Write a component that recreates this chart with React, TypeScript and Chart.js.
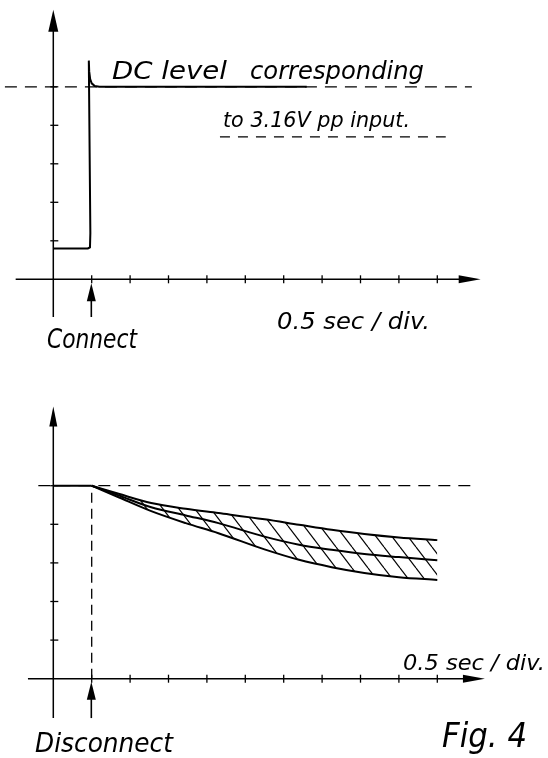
import React, { useEffect, useRef } from "react";
import { Chart, registerables } from "chart.js";

Chart.register(...registerables);

// ---------- data (x in time divisions, y in vertical divisions) ----------
const xTicks = [1, 2, 3, 4, 5, 6, 7, 8, 9, 10];
const yTicks = [1, 2, 3, 4, 5];

// top trace: connect
const connectX = [0, 0.9, 0.955, 0.965, 0.925, 0.935, 0.96, 1.0, 1.08, 1.2, 6.6];
const connectY = [0.8, 0.8, 0.83, 1.2, 5.68, 5.4, 5.2, 5.09, 5.02, 5.0, 5.0];
const dcLevel = 5;
const dcDashX = [-1.26, 10.9];
const refLevel = 3.7;
const refDashX = [4.34, 10.22];

// bottom trace: disconnect
const decayX = [1, 1.7, 2.55, 3.45, 4.3, 5.5, 6.4, 7.25, 8.1, 9, 10];
const decayUpper = [5, 4.79, 4.55, 4.4, 4.29, 4.13, 3.99, 3.86, 3.75, 3.66, 3.59];
const decayMiddle = [5, 4.75, 4.44, 4.23, 4.03, 3.68, 3.47, 3.34, 3.23, 3.15, 3.07];
const decayLower = [5, 4.7, 4.34, 4.03, 3.77, 3.35, 3.08, 2.89, 2.74, 2.63, 2.56];
const flatX = [0, 1];
const levelDashX = [-0.39, 11.03];
const disconnectAt = 1;

const FONT = '"DejaVu Sans", "Liberation Sans", sans-serif';
const W = 548;
const H = 379;

const pts = (xs: number[], ys: number[]) => xs.map((x, i) => ({ x, y: ys[i] }));
const hline = (xs: number[], y: number) => xs.map((x) => ({ x, y }));

function fitText(ctx: CanvasRenderingContext2D, text: string, x: number, baseline: number, width: number, size: number) {
  ctx.save();
  ctx.font = `italic ${size}px ${FONT}`;
  ctx.fillStyle = "#000";
  ctx.textBaseline = "alphabetic";
  const w = ctx.measureText(text).width;
  ctx.translate(x, baseline);
  ctx.scale(width / w, 1);
  ctx.fillText(text, 0, 0);
  ctx.restore();
}

function line(ctx: CanvasRenderingContext2D, x1: number, y1: number, x2: number, y2: number, lw = 1.5) {
  ctx.beginPath();
  ctx.lineWidth = lw;
  ctx.moveTo(x1, y1);
  ctx.lineTo(x2, y2);
  ctx.stroke();
}

function tri(ctx: CanvasRenderingContext2D, p: number[][]) {
  ctx.beginPath();
  ctx.moveTo(p[0][0], p[0][1]);
  ctx.lineTo(p[1][0], p[1][1]);
  ctx.lineTo(p[2][0], p[2][1]);
  ctx.closePath();
  ctx.fill();
}

type AxisCfg = {
  xFrom: number; xTo: number; yFrom: number; yTo: number;
  yHead: number; yHalf: number; markerAt: number; markerTip: number; markerBottom: number;
  texts: [string, number, number, number, number][];
};

function axesPlugin(cfg: AxisCfg) {
  return {
    id: "axesPlugin",
    afterDraw(chart: any) {
      const ctx: CanvasRenderingContext2D = chart.ctx;
      const xs = chart.scales.x;
      const ys = chart.scales.y;
      const X = (v: number) => xs.getPixelForValue(v);
      const Y = (v: number) => ys.getPixelForValue(v);
      ctx.save();
      ctx.strokeStyle = "#000";
      ctx.fillStyle = "#000";
      const x0 = X(0);
      const y0 = Y(0);
      // x axis
      const xEnd = X(cfg.xTo);
      line(ctx, X(cfg.xFrom), y0, xEnd - 10, y0, 1.5);
      tri(ctx, [[xEnd, y0], [xEnd - 22, y0 - 4], [xEnd - 22, y0 + 4]]);
      // y axis
      const yTop = Y(cfg.yTo);
      line(ctx, x0, Y(cfg.yFrom), x0, yTop + 10, 1.5);
      tri(ctx, [[x0, yTop], [x0 - cfg.yHalf, yTop + cfg.yHead], [x0 + cfg.yHalf, yTop + cfg.yHead]]);
      // ticks
      xTicks.forEach((t) => line(ctx, X(t), y0 - 4, X(t), y0 + 4, 1.3));
      yTicks.forEach((t) => line(ctx, x0 - 3, Y(t), x0 + 5, Y(t), 1.3));
      // event marker arrow
      const mx = X(cfg.markerAt);
      const tip = Y(cfg.markerTip);
      line(ctx, mx, Y(cfg.markerBottom), mx, tip + 8, 1.6);
      tri(ctx, [[mx, tip], [mx - 4.5, tip + 18], [mx + 4.5, tip + 18]]);
      // texts
      cfg.texts.forEach(([t, x, b, w, s]) => fitText(ctx, t, x, b, w, s));
      ctx.restore();
    },
  };
}

function makePattern(): CanvasPattern | string {
  const pc = document.createElement("canvas");
  pc.width = 16;
  pc.height = 21;
  const p = pc.getContext("2d");
  if (!p) return "rgba(0,0,0,0.3)";
  p.strokeStyle = "#000";
  p.lineWidth = 1.2;
  for (const off of [-16, 0, 16]) {
    p.beginPath();
    p.moveTo(off, 0);
    p.lineTo(off + 16, 21);
    p.stroke();
  }
  return p.createPattern(pc, "repeat") || "rgba(0,0,0,0.3)";
}

const baseOptions = (padding: any) => ({
  animation: false as const,
  responsive: false,
  events: [] as any[],
  layout: { padding },
  plugins: { legend: { display: false }, tooltip: { enabled: false }, title: { display: false } },
  elements: { point: { radius: 0 }, line: { tension: 0 } },
  scales: {
    x: { type: "linear" as const, min: 0, max: 11, display: false },
    y: { type: "linear" as const, min: 0, max: 7, display: false },
  },
});

export default function App() {
  const topRef = useRef<HTMLCanvasElement>(null);
  const botRef = useRef<HTMLCanvasElement>(null);

  useEffect(() => {
    const charts: Chart[] = [];
    if (topRef.current) {
      charts.push(
        new Chart(topRef.current, {
          type: "line",
          data: {
            datasets: [
              { data: hline(dcDashX, dcLevel), borderColor: "#000", borderWidth: 1.3, borderDash: [12, 8], clip: false } as any,
              { data: hline(refDashX, refLevel), borderColor: "#000", borderWidth: 1.3, borderDash: [10, 8], clip: false } as any,
              { data: pts(connectX, connectY), borderColor: "#000", borderWidth: 2, clip: false } as any,
            ],
          },
          options: baseOptions({ left: 53.3, right: 72.3, top: 9.8, bottom: 99.7 }) as any,
          plugins: [
            axesPlugin({
              xFrom: -0.98, xTo: 11.13, yFrom: -0.98, yTo: 7.0, yHead: 22, yHalf: 5,
              markerAt: 0.99, markerTip: -0.1, markerBottom: -0.98,
              texts: [
                ["DC level", 112, 78.5, 115, 24],
                ["corresponding", 250, 78.5, 174, 24],
                ["to 3.16V pp input.", 223, 127, 187, 20.5],
                ["0.5 sec / div.", 277, 328.5, 153, 23],
                ["Connect", 47, 347.5, 90, 27],
              ],
            }),
          ],
        })
      );
    }
    if (botRef.current) {
      const pattern = makePattern();
      charts.push(
        new Chart(botRef.current, {
          type: "line",
          data: {
            datasets: [
              { data: pts(decayX, decayUpper), borderColor: "#000", borderWidth: 2, fill: "+2", backgroundColor: pattern, cubicInterpolationMode: "monotone", clip: false } as any,
              { data: pts(decayX, decayMiddle), borderColor: "#000", borderWidth: 2, cubicInterpolationMode: "monotone", clip: false } as any,
              { data: pts(decayX, decayLower), borderColor: "#000", borderWidth: 2, cubicInterpolationMode: "monotone", clip: false } as any,
              { data: hline(flatX, dcLevel), borderColor: "#000", borderWidth: 2, clip: false } as any,
              { data: hline(levelDashX, dcLevel), borderColor: "#000", borderWidth: 1.3, borderDash: [12, 8], clip: false } as any,
              { data: [{ x: disconnectAt, y: 0 }, { x: disconnectAt, y: dcLevel }], borderColor: "#000", borderWidth: 1.3, borderDash: [10, 6], clip: false } as any,
            ],
          },
          options: baseOptions({ left: 53.3, right: 72.3, top: 29.5, bottom: 79.3 }) as any,
          plugins: [
            axesPlugin({
              xFrom: -0.66, xTo: 11.24, yFrom: -1.02, yTo: 7.05, yHead: 20, yHalf: 4,
              markerAt: 0.99, markerTip: -0.08, markerBottom: -1.02,
              texts: [
                ["0.5 sec / div.", 403, 670 - H, 142, 20.5],
                ["Disconnect", 35, 751.5 - H, 138, 27],
                ["Fig. 4", 442, 746.5 - H, 85, 34],
              ],
            }),
          ],
        })
      );
    }
    return () => charts.forEach((c) => c.destroy());
  }, []);

  return (
    <div style={{ position: "absolute", left: 0, top: 0, width: W, height: 2 * H, background: "#fff" }}>
      <canvas ref={topRef} width={W} height={H} style={{ display: "block", width: W, height: H }} />
      <canvas ref={botRef} width={W} height={H} style={{ display: "block", width: W, height: H }} />
    </div>
  );
}
